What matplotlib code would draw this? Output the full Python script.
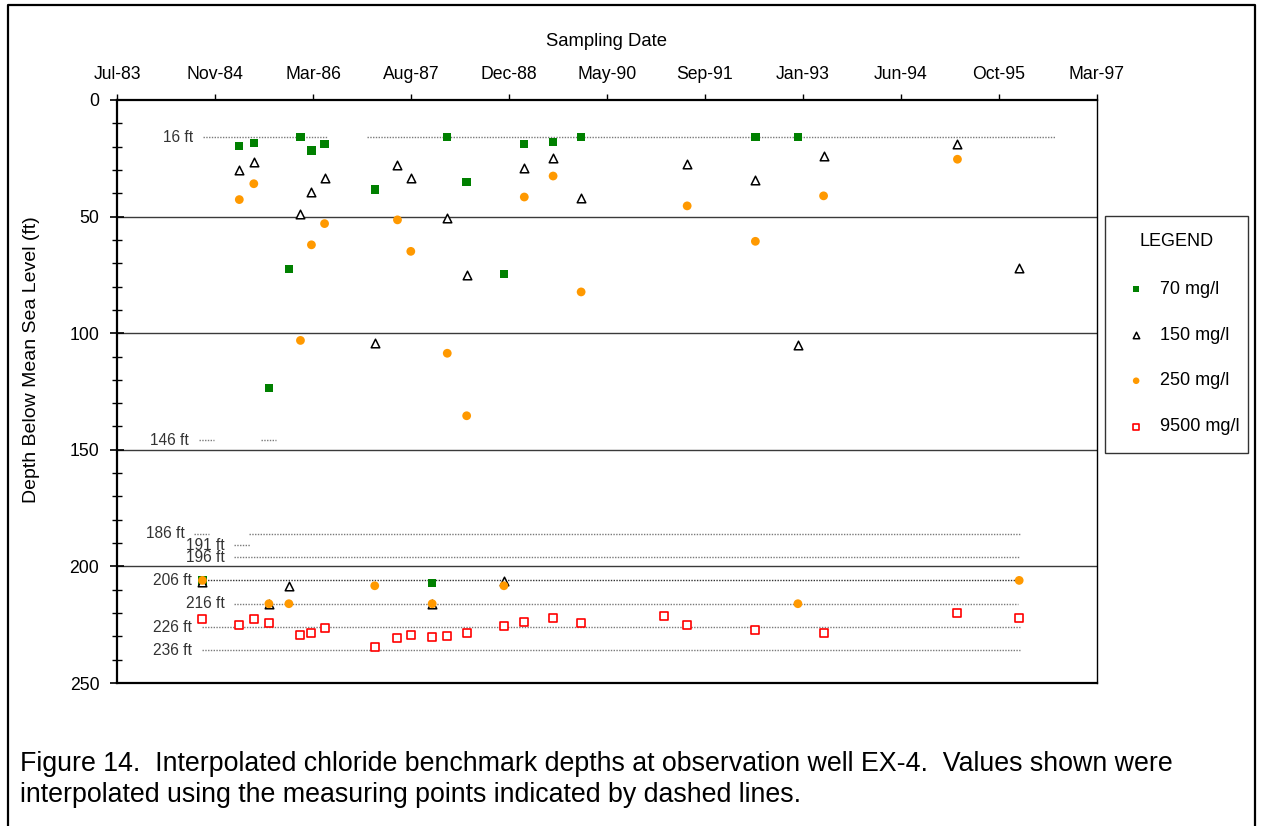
import numpy as np
import matplotlib
matplotlib.use("Agg")
import matplotlib.pyplot as plt
import matplotlib.dates as mdates
from matplotlib.lines import Line2D
from matplotlib.ticker import MultipleLocator, FixedLocator

plt.rcParams['font.family'] = ['Liberation Sans', 'DejaVu Sans']

# sampling dates (one column of symbols per date)
sample_dates = ['1984-09-09', '1985-03-16', '1985-05-29', '1985-08-14', '1985-11-24',
                '1986-01-22', '1986-03-19', '1986-05-25', '1987-02-05', '1987-06-01',
                '1987-08-08', '1987-11-25', '1988-02-10', '1988-05-19', '1988-11-25',
                '1989-03-09', '1989-08-03', '1989-12-24', '1991-02-19', '1991-06-18',
                '1992-05-31', '1993-01-03', '1993-05-14', '1995-03-28', '1996-02-06']

nan = np.nan
depth_70 = [206, 19.6, 18.4, 123.6, 72.4, 16, 21.7, 19.0, 38.4, nan,
            nan, 207.2, 16, 35.1, 74.6, 19.0, 18.0, 16, nan, nan,
            16, 16, nan, nan, nan]
depth_150 = [206.5, 30.0, 26.4, 216.3, 208.2, 49.0, 39.4, 33.3, 104.2, 28.0,
             33.3, 216.3, 50.7, 75.0, 206.3, 29.0, 24.7, 41.9, nan, 27.4,
             34.3, 105.0, 24.1, 18.7, 72.1]
depth_250 = [206, 42.7, 35.9, 216, 216, 103.1, 62.1, 53.0, 208.3, 51.4,
             64.9, 216, 108.6, 135.4, 208.3, 41.6, 32.6, 82.3, nan, 45.4,
             60.6, 216, 41.1, 25.4, 206]
depth_9500 = [222.7, 225.0, 222.7, 224.4, nan, 229.3, 228.7, 226.6, 234.7, 230.5,
              229.3, 230.3, 229.9, 228.7, 225.5, 223.9, 222.3, 224.4, 221.2, 225.0,
              227.2, nan, 228.7, 220.1, 222.3]

# measuring points (dashed lines): depth and date spans
mp_depths = [16, 146, 186, 191, 196, 206, 216, 226, 236]
mp_spans = [
    [('1984-09-10', '1986-06-05'), ('1986-12-27', '1996-08-09')],
    [('1984-08-22', '1984-11-07'), ('1985-07-03', '1985-09-19')],
    [('1984-07-29', '1984-10-12'), ('1985-05-04', '1996-02-12')],
    [('1985-02-17', '1985-05-08')],
    [('1985-02-17', '1996-02-06')],
    [('1984-09-05', '1996-02-02')],
    [('1985-02-17', '1996-02-01')],
    [('1984-09-05', '1996-02-10')],
    [('1984-09-05', '1996-02-10')],
]

x_start = np.datetime64('1983-07-01')
tick_step_days = 500
n_ticks = 11

x = np.array(sample_dates, dtype='datetime64[D]')

fig = plt.figure(figsize=(12.63, 8.26), dpi=100)
ax = fig.add_axes([117 / 1263, 1 - 683 / 826, 980 / 1263, 583 / 826])

# measuring point lines + labels
for depth, spans in zip(mp_depths, mp_spans):
    col = '#333333' if depth == 206 else '#7a7a7a'
    for s, e in spans:
        ax.plot(np.array([s, e], dtype='datetime64[D]'), [depth, depth], color=col,
                lw=1.0, ls=(0, (1, 1)), zorder=2)
    ax.annotate(f'{depth} ft', xy=(np.datetime64(spans[0][0]), depth), xytext=(-7, 0),
                textcoords='offset points', ha='right', va='center',
                fontsize=11.2, color='#333333')

ax.scatter(x, depth_70, marker='s', s=36, color='#008000', edgecolors='none',
           label='70 mg/l', zorder=3)
ax.scatter(x, depth_150, marker='^', s=38, facecolors='white', edgecolors='black',
           linewidths=1.1, label='150 mg/l', zorder=4)
ax.scatter(x, depth_250, marker='o', s=40, color='#ff9900', edgecolors='none',
           label='250 mg/l', zorder=5)
ax.scatter(x, depth_9500, marker='s', s=34, facecolors='white', edgecolors='#ff0000',
           linewidths=1.2, label='9500 mg/l', zorder=6)

ticks = x_start + np.arange(n_ticks) * np.timedelta64(tick_step_days, 'D')
ax.set_xlim(ticks[0], ticks[-1])
ax.xaxis.set_major_locator(FixedLocator(mdates.date2num(ticks)))
ax.xaxis.set_major_formatter(mdates.DateFormatter('%b-%y'))
ax.xaxis.tick_top()
ax.xaxis.set_label_position('top')
ax.tick_params(axis='x', direction='out', length=4.3, width=1, labelsize=12.7, pad=8)
ax.set_xlabel('Sampling Date', fontsize=13.3, labelpad=14)

ax.set_ylim(250, 0)
ax.yaxis.set_major_locator(MultipleLocator(50))
ax.yaxis.set_minor_locator(MultipleLocator(10))
ax.tick_params(axis='y', which='major', direction='inout', length=9.4, width=1.2,
               labelsize=12.7, pad=8)
ax.tick_params(axis='y', which='minor', direction='inout', length=6.8, width=1.0)
fig.text(32 / 1263, 1 - 360 / 826, 'Depth Below Mean Sea Level (ft)', rotation=90,
         ha='center', va='center', fontsize=14)

for yv in [50, 100, 150, 200]:
    ax.axhline(yv, color='#3a3a3a', lw=1.0, zorder=1)

for side in ['left', 'top', 'bottom']:
    ax.spines[side].set_linewidth(1.6)
ax.spines['right'].set_linewidth(1.0)

W, H = 1263, 826
leg = fig.legend(loc='upper left',
                 bbox_to_anchor=(1105 / W, 1 - 452 / H, 143 / W, 236 / H),
                 mode='expand', title='LEGEND', fontsize=13, title_fontsize=13,
                 frameon=True, fancybox=False, edgecolor='black', labelspacing=1.6,
                 handletextpad=0.55, handlelength=1.55, borderpad=0.95,
                 borderaxespad=0, markerscale=0.75)
leg.get_frame().set_linewidth(1.0)
leg._legend_box.sep = 22

fig.text(20 / W, 1 - 764 / H,
         'Figure 14.  Interpolated chloride benchmark depths at observation well EX-4.  Values shown were',
         ha='left', va='center', fontsize=19.3)
fig.text(20 / W, 1 - 795 / H,
         'interpolated using the measuring points indicated by dashed lines.',
         ha='left', va='center', fontsize=19.3)

# outer figure frame
fig.add_artist(Line2D([8 / W, 8 / W, 1255 / W, 1255 / W], [0, 1 - 5 / H, 1 - 5 / H, 0],
                      transform=fig.transFigure, color='black', lw=1.6))

fig.savefig('out.png', dpi=100)
